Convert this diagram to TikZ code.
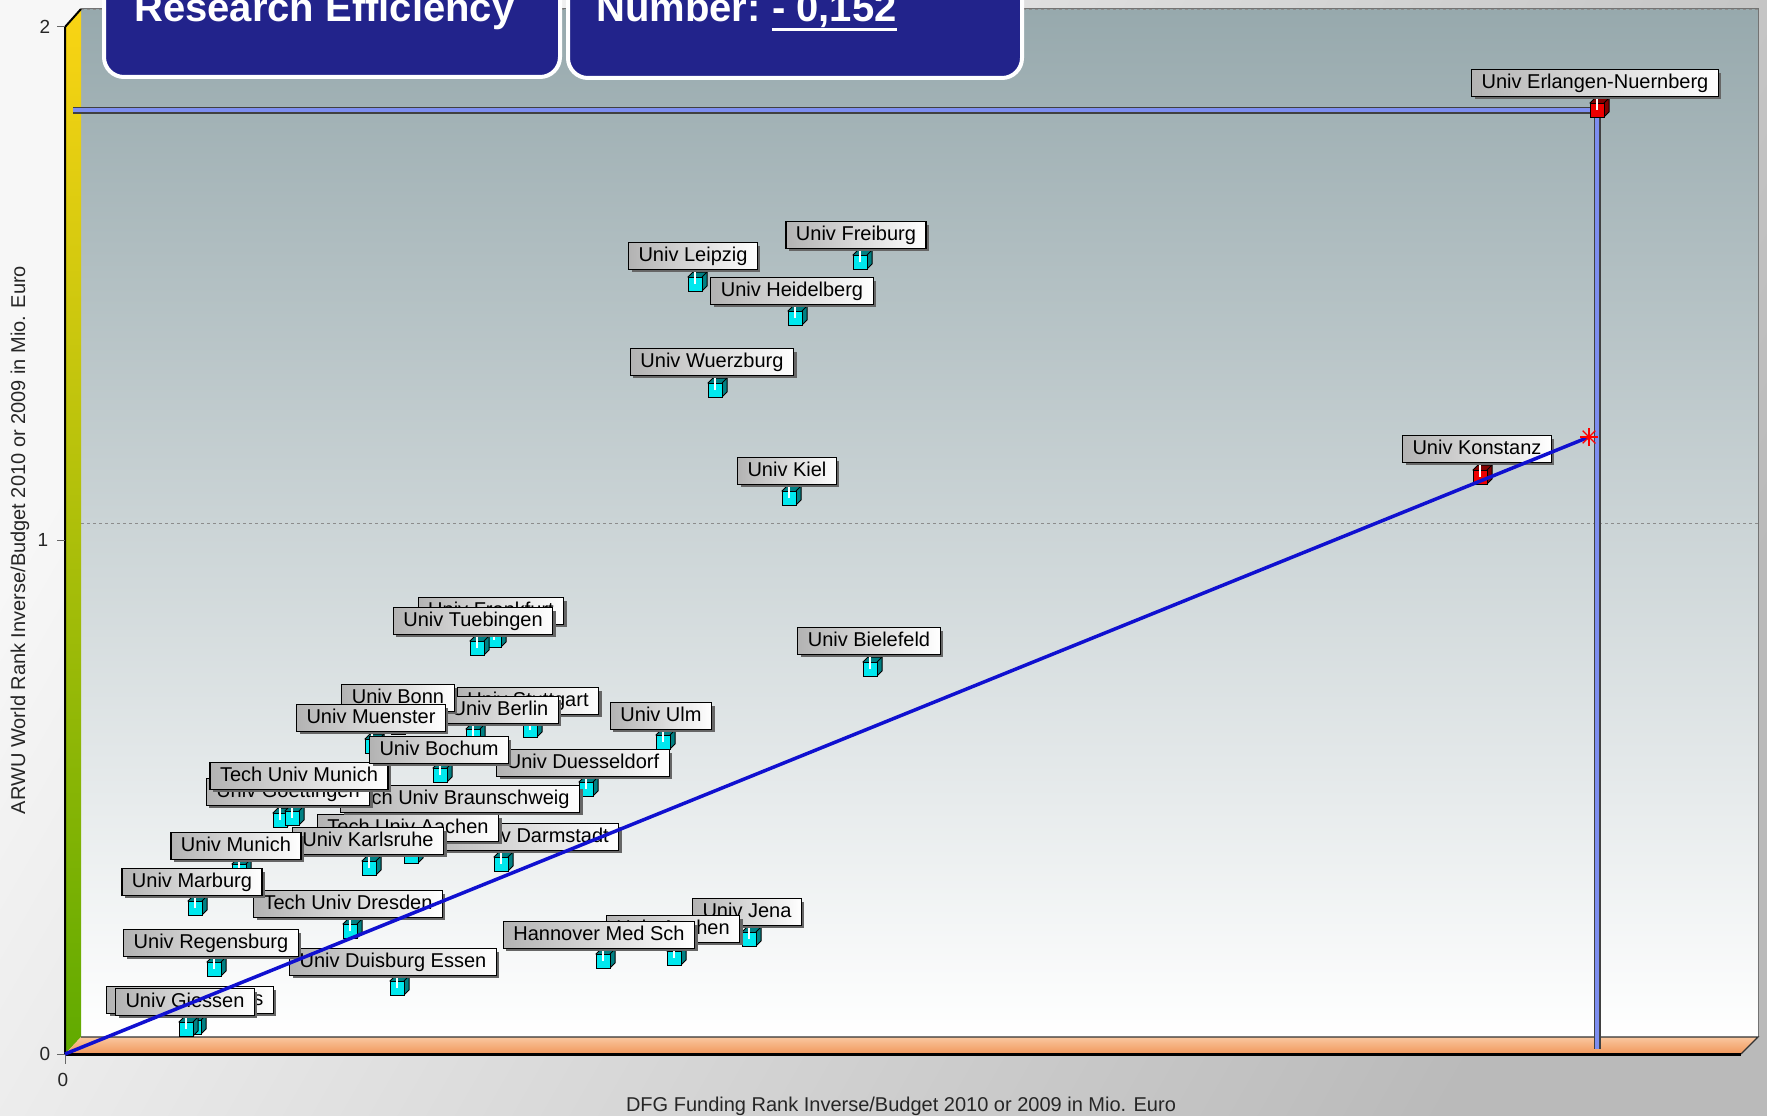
\documentclass[tikz,border=0pt]{standalone}
\usepackage{fontspec}
\setmainfont{Liberation Sans}
\usetikzlibrary{shadows}

\definecolor{navy}{RGB}{34,35,139}
\definecolor{walltop}{RGB}{151,169,173}
\definecolor{wallmid}{RGB}{208,216,219}
\definecolor{wallyellow}{RGB}{250,212,20}
\definecolor{wallolive}{RGB}{190,190,20}
\definecolor{wallgreen}{RGB}{96,170,0}
\definecolor{floortop}{RGB}{250,200,160}
\definecolor{floorbot}{RGB}{240,150,90}
\definecolor{barblue}{RGB}{125,142,240}
\definecolor{fitblue}{RGB}{16,16,208}
\definecolor{cubecyan}{RGB}{0,232,238}
\definecolor{cubered}{RGB}{238,0,0}

\tikzset{
  lbl/.style={draw=black, line width=1.2pt, left color=black!30, right color=white,
    font=\fontsize{20}{24}\selectfont, inner xsep=10pt, inner ysep=3.5pt,
    text height=15pt, text depth=4.5pt,
    general shadow={fill=black!60, shadow xshift=3pt, shadow yshift=-3pt}},
  axnum/.style={font=\fontsize{19}{22}\selectfont, text=black!85},
  axtitle/.style={font=\fontsize{20}{24}\selectfont, text=black!85},
  ttl/.style={font=\bfseries\fontsize{40}{48}\selectfont, text=white, inner sep=0pt},
  ttlbox/.style={draw=white, line width=4pt, fill=navy, rounded corners=20pt},
  bar/.style={line width=7pt, black!75},
  barfill/.style={line width=4pt, barblue},
  fitline/.style={line width=3.5pt, fitblue},
  pics/ptcube/.style={code={
    \draw[fill=#1!55!black, line width=1pt] (-7,-7) -- (-2,-12) -- (12,-12) -- (12,2) -- (7,7) -- cycle;
    \draw[line width=0.8pt] (7,-7) -- (12,-12);
    \draw[fill=#1, line width=1pt] (-7,-7) rectangle (7,7);
    \draw[white, line width=1.5pt] (0,-14) -- (0,0);
  }},
}

\begin{document}
\begin{tikzpicture}[x=1pt, y=-1pt]
    \useasboundingbox (0,0) rectangle (1767,1116);
    \shade[left color=black!3, right color=black!27, shading angle=60] (0,0) rectangle (1767,1116);

    \coordinate (orig) at (65,1054);
    \coordinate (fitend) at (1589,437);
    \coordinate (erl) at (1597,110);
    \coordinate (hbarstart) at (73,110);
    \coordinate (vbarend) at (1597,1049);

    % walls and floor
    \shade[top color=walltop, middle color=wallmid, bottom color=white] (81,9) rectangle (1758,1037);
    \draw[black!55, line width=1pt] (81,9) -- (1758,9) -- (1758,1037);
    \draw[black!45, dashed, line width=1pt] (81,10) -- (1758,10);
    \draw[black!45, dashed, line width=1pt] (81,523) -- (1758,523);
    \shade[top color=wallyellow, middle color=wallolive, bottom color=wallgreen]
        (65,1054) -- (65,27) -- (81,9) -- (81,1037) -- cycle;
    \draw[line width=2pt] (81,9) -- (65,27) -- (65,1054);
    \shade[top color=floortop, middle color=white!85!orange, bottom color=floorbot]
        (65,1054) -- (81,1037) -- (1758,1037) -- (1741,1054) -- cycle;
    \draw[black!80, line width=1.2pt] (81,1037) -- (1758,1037) -- (1741,1054);
    \draw[line width=3pt] (65,1054) -- (1741,1054);

    % axes
    \draw[black!60, line width=1pt] (57,27) -- (65,27);
    \draw[black!60, line width=1pt] (57,540) -- (65,540);
    \draw[black!60, line width=1pt] (57,1054) -- (65,1054);
    \draw[black!60, line width=1pt] (65,1054) -- (65,1064);
    \node[axnum] (ytwo) at (45,27) {2};
    \node[axnum] (yone) at (43,540) {1};
    \node[axnum] (yzero) at (45,1054) {0};
    \node[axnum] (xzero) at (63,1080) {0};
    \node[axtitle] (xtitle) at (901,1106) {DFG Funding Rank Inverse/Budget 2010 or 2009 in Mio. Euro};
    \node[axtitle, rotate=90] (ytitle) at (20,540) {ARWU World Rank Inverse/Budget 2010 or 2009 in Mio. Euro};

    % top university bars
    \draw[bar] (hbarstart) -- (erl) -- (vbarend);
    \draw[barfill] (hbarstart) -- (erl) -- (vbarend);

    % points
    \foreach \px/\py in {860/262, 695/284, 795/318, 715/390, 789/498, 870/669,
        494/640, 477/648, 530/730, 473/736, 398/727, 372/746, 440/775, 663/742, 586/789,
        280/820, 292/818, 411/856, 369/868, 501/864, 239/871, 195/908, 350/931,
        214/969, 397/988, 603/961, 674/958, 749/939, 194/1027, 186/1029}
        \pic at (\px,\py) {ptcube=cubecyan};
    \pic at (erl) {ptcube=cubered};
    \pic at (1480,477) {ptcube=cubered};

    % labels
    \node[lbl] (jena) at (747,912) {Univ Jena};
    \node[lbl] (aachenu) at (673,929) {Univ Aachen};
    \node[lbl] (hannover) at (599,935) {Hannover Med Sch};
    \node[lbl] (saar) at (190,1000) {Univ Saarlandes};
    \node[lbl] (giessen) at (185,1002) {Univ Giessen};
    \node[lbl] (duisburg) at (393,962) {Univ Duisburg Essen};
    \node[lbl] (regensburg) at (211,943) {Univ Regensburg};
    \node[lbl] (dresden) at (348,904) {Tech Univ Dresden};
    \node[lbl] (marburg) at (192,882) {Univ Marburg};
    \node[lbl] (darmstadt) at (516,837) {Tech Univ Darmstadt};
    \node[lbl] (aachen) at (408,828) {Tech Univ Aachen};
    \node[lbl] (karlsruhe) at (368,841) {Univ Karlsruhe};
    \node[lbl] (munich) at (236,846) {Univ Munich};
    \node[lbl] (braunschweig) at (460,799) {Tech Univ Braunschweig};
    \node[lbl] (goettingen) at (288,792) {Univ Goettingen};
    \node[lbl] (tum) at (299,776) {Tech Univ Munich};
    \node[lbl] (duesseldorf) at (583,763) {Univ Duesseldorf};
    \node[lbl] (bochum) at (439,750) {Univ Bochum};
    \node[lbl] (stuttgart) at (528,701) {Univ Stuttgart};
    \node[lbl] (berlin) at (500,710) {Univ Berlin};
    \node[lbl] (bonn) at (398,698) {Univ Bonn};
    \node[lbl] (muenster) at (371,718) {Univ Muenster};
    \node[lbl] (ulm) at (661,716) {Univ Ulm};
    \node[lbl] (frankfurt) at (491,611) {Univ Frankfurt};
    \node[lbl] (tuebingen) at (473,621) {Univ Tuebingen};
    \node[lbl] (bielefeld) at (869,641) {Univ Bielefeld};
    \node[lbl] (kiel) at (787,471) {Univ Kiel};
    \node[lbl] (wuerzburg) at (712,362) {Univ Wuerzburg};
    \node[lbl] (heidelberg) at (792,291) {Univ Heidelberg};
    \node[lbl] (leipzig) at (693,256) {Univ Leipzig};
    \node[lbl] (freiburg) at (856,235) {Univ Freiburg};
    \node[lbl] (konstanz) at (1477,449) {Univ Konstanz};
    \node[lbl] (erlangen) at (1595,83) {Univ Erlangen-Nuernberg};

    % fitted line
    \draw[fitline] (orig) -- (fitend);
    \foreach \a in {0,45,90,135}
        \draw[red, line width=1.2pt] (fitend) ++(\a:9) -- ++(\a+180:18);

    % title boxes
    \draw[ttlbox] (104,-40) rectangle (560,77);
    \draw[ttlbox] (568,-40) rectangle (1022,78);
    \node[ttl, anchor=base west] (title) at (134,22) {Research Efficiency};
    \node[ttl, anchor=base west] (numlbl) at (596,22) {Number:};
    \node[ttl, anchor=base west] (numval) at ([xshift=11pt]numlbl.base east) {- 0,152};
    \draw[white, line width=3pt] ([yshift=-8pt]numval.base west) -- ([yshift=-8pt]numval.base east);
\end{tikzpicture}
\end{document}
